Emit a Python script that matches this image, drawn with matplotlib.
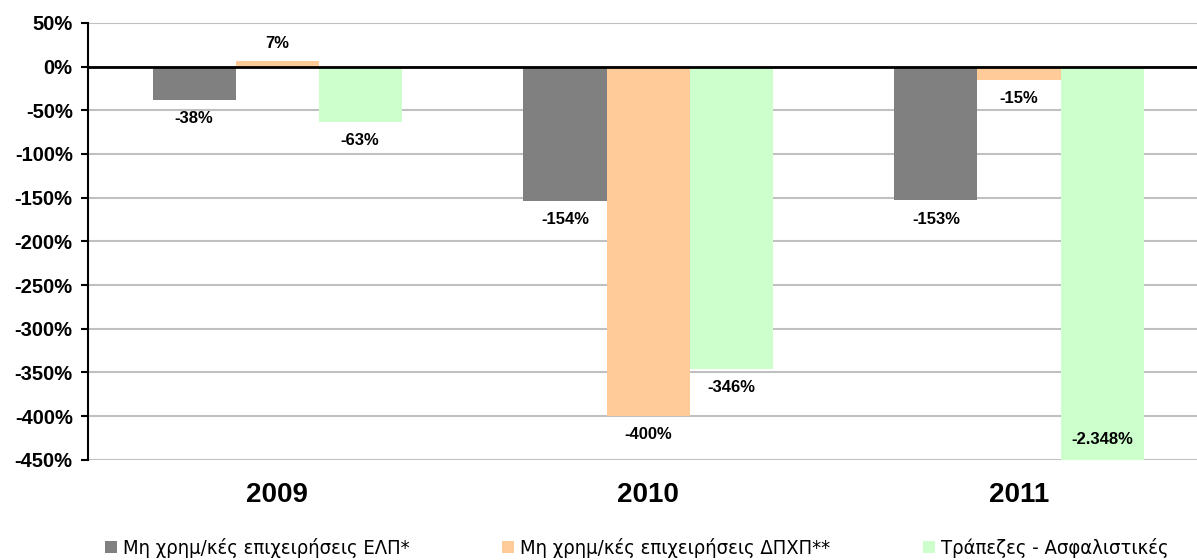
import numpy as np
import matplotlib.pyplot as plt
from matplotlib import font_manager

plt.rcParams['font.family'] = ['Liberation Sans', 'DejaVu Sans']

years = ['2009', '2010', '2011']
series_names = ['Μη χρημ/κές επιχειρήσεις ΕΛΠ*',
                'Μη χρημ/κές επιχειρήσεις ΔΠΧΠ**',
                'Τράπεζες - Ασφαλιστικές']
elp = [-38, -154, -153]
dpxp = [7, -400, -15]
banks = [-63, -346, -2348]
colors = ['#808080', '#ffcc99', '#ccffcc']

ymin, ymax = -450, 50


def fmt(v):
    s = f"{abs(v):,}".replace(',', '.')
    return ('-' if v < 0 else '') + s + '%'


fig = plt.figure(figsize=(11.97, 5.6), dpi=100)
ax = fig.add_axes([0.0735, 0.179, 0.9265, 0.78])

x = np.arange(len(years))
w = 0.224
for i, (vals, c, name) in enumerate(zip([elp, dpxp, banks], colors, series_names)):
    pos = x + (i - 1) * w
    ax.bar(pos, vals, width=w, color=c, label=name, zorder=2)
    for xp, v in zip(pos, vals):
        # τιμές εκτός κλίμακας: ετικέτα μέσα στη μπάρα
        if v < ymin:
            ax.annotate(fmt(v), (xp, ymin), xytext=(0, 14.5), textcoords='offset points',
                        ha='center', va='center', fontsize=12, fontweight='bold')
        else:
            off = 12 if v > 0 else -13.5
            ax.annotate(fmt(v), (xp, v), xytext=(0, off), textcoords='offset points',
                        ha='center', va='center', fontsize=12, fontweight='bold')

ax.set_ylim(ymin, ymax)
ax.set_xlim(-0.51, 2.48)
ax.set_yticks(np.arange(ymin, ymax + 1, 50))
ax.set_yticklabels([f"{t}%" for t in np.arange(ymin, ymax + 1, 50)],
                   fontsize=14.5, fontweight='bold')
ax.set_xticks(x)
ax.set_xticklabels(years, fontsize=20, fontweight='bold')
ax.tick_params(axis='x', length=0, pad=16)
ax.tick_params(axis='y', length=5, width=1.5, direction='out', pad=6)
ax.grid(axis='y', color='#c0c0c0', linewidth=1.5, zorder=0)
ax.axhline(0, color='black', linewidth=2, zorder=3)
for s in ['top', 'right', 'bottom']:
    ax.spines[s].set_visible(False)
ax.spines['left'].set_linewidth(1.5)

leg_font = font_manager.FontProperties(family='DejaVu Sans', stretch='condensed', size=14.5)
ax.legend(loc='center', bbox_to_anchor=(0.495, -0.202), ncol=3, frameon=False,
          prop=leg_font, handlelength=0.6, handleheight=0.6, handletextpad=0.3,
          columnspacing=4.6)

plt.savefig('out.png', dpi=100)
